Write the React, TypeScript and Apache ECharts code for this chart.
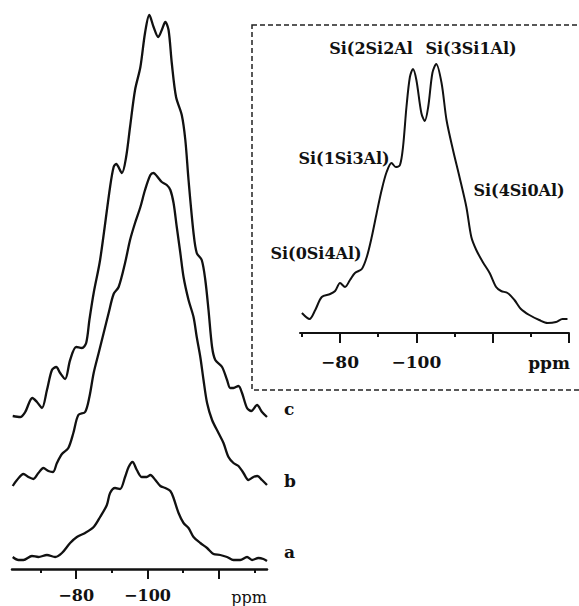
import { useEffect, useRef } from "react";
import * as echarts from "echarts";

// ---- Main spectra (ppm, intensity above each trace's own baseline) ----
const ppmC = [-62.2,-64.3,-65.7,-67.7,-69.0,-70.4,-71.8,-73.2,-74.4,-75.5,-76.9,-78.3,-80.0,-81.6,-82.8,-83.7,-84.9,-86.7,-89.5,-90.5,-91.2,-92.8,-94.0,-95.1,-96.5,-98.0,-99.3,-100.5,-101.7,-103.0,-104.0,-105.0,-105.9,-106.8,-108.0,-109.6,-110.6,-111.5,-112.9,-113.8,-115.2,-116.2,-117.1,-118.1,-119.0,-120.9,-122.3,-123.2,-124.1,-125.5,-126.5,-127.9,-129.1,-130.7,-132.1,-133.5];
const intC = [1,0,5,19,15,9,27,47,50,44,38,57,70,69,74,97,124,157,230,250,253,244,260,290,327,350,384,402,390,380,387,395,387,354,320,302,277,237,184,164,157,137,107,70,57,50,37,29,29,31,24,9,6,12,5,0];

const ppmB = [-62.2,-63.4,-65.2,-66.6,-68.0,-69.4,-70.8,-72.2,-73.5,-74.6,-76.0,-77.8,-79.2,-80.6,-82.5,-83.7,-84.9,-86.3,-87.7,-89.1,-90.5,-91.9,-93.7,-95.1,-96.5,-98.0,-99.3,-100.8,-101.7,-102.6,-104.0,-105.4,-106.4,-107.3,-108.2,-109.2,-110.1,-111.5,-112.9,-113.8,-114.8,-115.7,-116.7,-118.1,-119.9,-121.3,-122.7,-124.1,-125.5,-126.9,-128.3,-129.7,-130.8,-132.1,-133.5];
const intB = [0,6,12,9,7,13,18,15,14,23,32,38,53,71,74,89,113,133,153,173,192,199,223,246,263,279,296,311,313,310,304,301,296,283,259,233,209,186,169,149,129,106,83,66,53,43,29,23,20,13,6,9,10,6,1];

const ppmA = [-62.2,-63.8,-65.2,-67.6,-69.4,-71.8,-74.1,-76.0,-78.3,-80.2,-82.5,-84.9,-86.7,-88.6,-89.5,-90.9,-92.3,-93.7,-94.7,-95.8,-97.0,-98.4,-99.8,-100.8,-102.2,-103.6,-105.0,-106.4,-107.3,-108.7,-110.1,-111.5,-112.9,-114.8,-116.7,-118.5,-120.4,-122.3,-124.1,-126.0,-127.9,-129.3,-131.1,-132.5,-133.5];
const intA = [1,-2,-2,2,1,3,1,5,15,21,25,31,41,53,65,70,69,81,91,96,88,81,81,83,78,72,70,67,60,45,35,30,21,15,10,4,3,1,-2,-2,1,-2,0,-1,-3];

const traceNames = ["a", "b", "c"];
const traceOffsets = [11, 83, 152];

// ---- Inset spectrum ----
const ppmInset = [-70.0,-72.0,-73.5,-75.2,-77.4,-78.7,-80.0,-81.3,-82.6,-83.9,-85.7,-87.0,-88.3,-89.6,-90.9,-92.2,-93.5,-94.6,-95.7,-96.5,-97.4,-98.3,-99.1,-100.0,-101.3,-102.2,-103.1,-104.2,-105.2,-106.6,-107.9,-109.6,-111.3,-113.1,-114.4,-115.7,-117.4,-119.2,-120.9,-122.2,-123.9,-125.7,-127.4,-129.6,-132.2,-134.4,-136.6,-138.3,-139.6];
const intInset = [20,14,23,36,39,42,50,46,53,60,64,76,96,120,143,161,170,166,168,186,226,256,264,253,220,212,226,260,269,250,213,183,156,126,96,83,71,60,46,42,40,33,24,18,13,10,11,14,14];

// ---- Axes ----
const mainMajorTicks = [-80, -100, -120];
const mainMinorTicks = [-70, -90, -110, -130];
const mainTickLabels = [-80, -100];
const insetMajorTicks = [-80, -100, -120, -140];
const insetMinorTicks = [-70, -90, -110, -130];
const insetTickLabels = [-80, -100];
const axisUnit = "ppm";

const peakLabels = ["Si(0Si4Al)", "Si(1Si3Al)", "Si(2Si2Al", "Si(3Si1Al)", "Si(4Si0Al)"];

const SERIF = '"DejaVu Serif", "Liberation Serif", serif';
const INK = "#111";

const fmt = (v: number) => (v < 0 ? "\u2212" + Math.abs(v) : String(v));

function pairs(xs: number[], ys: number[], off: number) {
  return xs.map((x, i) => [x, ys[i] + off]);
}

export default function App() {
  const ref = useRef<HTMLDivElement>(null);

  useEffect(() => {
    if (!ref.current) return;
    const chart = echarts.init(ref.current, null, { renderer: "svg" });

    const mainData = [
      pairs(ppmA, intA, traceOffsets[0]),
      pairs(ppmB, intB, traceOffsets[1]),
      pairs(ppmC, intC, traceOffsets[2]),
    ];

    const xAxisBase = (gridIndex: number, min: number, max: number) => ({
      type: "value" as const,
      gridIndex,
      position: "bottom" as const,
      min,
      max,
      inverse: true,
      splitLine: { show: false },
    });

    const option: any = {
      animation: false,
      backgroundColor: "#fff",
      grid: [
        { left: 12, width: 255, top: 5, height: 564, containLabel: false },
        { left: 300, width: 269, top: 30, height: 303, containLabel: false },
      ],
      xAxis: [
        {
          ...xAxisBase(0, -133.5, -62),
          axisLine: { show: true, lineStyle: { color: INK, width: 2.5 } },
          axisTick: { show: true, customValues: mainMajorTicks, length: 10, lineStyle: { color: INK, width: 2 } },
          axisLabel: {
            show: true,
            customValues: mainTickLabels,
            formatter: fmt,
            margin: 18,
            color: INK,
            fontFamily: SERIF,
            fontWeight: "bold",
            fontSize: 16,
          },
        },
        {
          ...xAxisBase(0, -133.5, -62),
          axisLine: { show: false },
          axisTick: { show: true, customValues: mainMinorTicks, length: 4, lineStyle: { color: INK, width: 2 } },
          axisLabel: { show: false },
        },
        {
          ...xAxisBase(1, -140, -69.5),
          axisLine: { show: true, lineStyle: { color: INK, width: 2 } },
          axisTick: { show: true, customValues: insetMajorTicks, length: 10, lineStyle: { color: INK, width: 2 } },
          axisLabel: {
            show: true,
            customValues: insetTickLabels,
            formatter: fmt,
            margin: 20,
            color: INK,
            fontFamily: SERIF,
            fontWeight: "bold",
            fontSize: 17,
          },
        },
        {
          ...xAxisBase(1, -140, -69.5),
          axisLine: { show: false },
          axisTick: { show: true, customValues: insetMinorTicks, length: 4, lineStyle: { color: INK, width: 2 } },
          axisLabel: { show: false },
        },
      ],
      yAxis: [
        { type: "value", gridIndex: 0, min: 0, max: 564, show: false },
        { type: "value", gridIndex: 1, min: 0, max: 303, show: false },
      ],
      series: [
        ...mainData.map((d, i) => ({
          name: traceNames[i],
          type: "line",
          xAxisIndex: 0,
          yAxisIndex: 0,
          data: d,
          showSymbol: false,
          smooth: 0.3,
          lineStyle: { color: INK, width: 2.3 },
          silent: true,
        })),
        {
          name: "inset",
          type: "line",
          xAxisIndex: 2,
          yAxisIndex: 1,
          data: pairs(ppmInset, intInset, 0),
          showSymbol: false,
          smooth: 0.3,
          lineStyle: { color: INK, width: 2 },
          silent: true,
        },
      ],
      graphic: [
        {
          type: "rect",
          shape: { x: 252, y: 25, width: 345, height: 365 },
          style: { fill: "none", stroke: "#222", lineWidth: 1.5, lineDash: [5, 3] },
          silent: true,
        },
        // trace labels
        ...traceNames.map((t, i) => ({
          type: "text",
          x: 284,
          y: [552, 481, 409][i],
          style: { text: t, font: `bold 17px ${SERIF}`, fill: INK, align: "left", verticalAlign: "middle" },
        })),
        {
          type: "text",
          x: 267,
          y: 597,
          style: { text: axisUnit, font: `16px ${SERIF}`, fill: INK, align: "right", verticalAlign: "middle" },
        },
        {
          type: "text",
          x: 570,
          y: 363,
          style: { text: axisUnit, font: `bold 17px ${SERIF}`, fill: INK, align: "right", verticalAlign: "middle" },
        },
        // peak labels in the inset
        ...peakLabels.map((t, i) => ({
          type: "text",
          x: [316, 344, 371, 471, 519][i],
          y: [253, 158, 48, 48, 190][i],
          style: { text: t, font: `bold 16px ${SERIF}`, fill: INK, align: "center", verticalAlign: "middle" },
        })),
      ],
    };

    chart.setOption(option);
    return () => chart.dispose();
  }, []);

  return (
    <div
      ref={ref}
      style={{ position: "fixed", left: 0, top: 0, width: 579, height: 606, background: "#fff" }}
    />
  );
}
